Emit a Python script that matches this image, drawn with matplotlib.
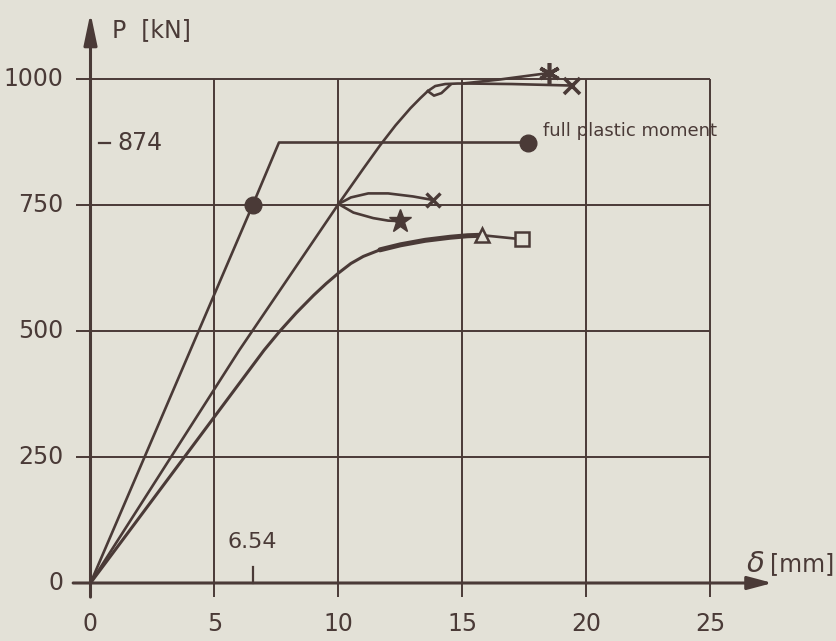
import matplotlib
matplotlib.use('Agg')
import matplotlib.pyplot as plt

# ---------------------------------------------------------------
# Data
# ---------------------------------------------------------------
X_TICKS = [0, 5, 10, 15, 20, 25]
Y_TICKS = [0, 250, 500, 750, 1000]

# bilinear idealisation (yield at 6.54 mm / 750 kN, plateau 874 kN)
bilin_d = [0.0, 6.54, 7.6, 17.64]
bilin_p = [0, 750, 874, 874]

# curve reaching ~1000 kN
upper_d = [0.0, 6.0, 10.0, 11.0, 11.67, 12.3, 12.9, 13.3, 13.6,
           13.9, 14.3, 14.8, 15.2, 17.0, 19.4]
upper_p = [0, 462, 752, 822, 868, 908, 942, 962, 976,
           986, 990, 991, 991, 990, 987]
loop_d = [13.6, 13.85, 14.15, 14.5]
loop_p = [976, 967, 972, 988]
upper_branch_d = [15.0, 16.5, 18.5]
upper_branch_p = [991, 999, 1012]

# two short branches leaving the curve at ~750 kN
cross_branch_d = [10.0, 10.5, 11.2, 12.0, 13.0, 13.8]
cross_branch_p = [752, 765, 773, 773, 767, 760]
star_branch_d = [10.0, 10.6, 11.4, 12.0, 12.5]
star_branch_p = [752, 735, 724, 719, 718]

# lower (rounded) curve
lower_d = [0.0, 7.0, 7.64, 8.3, 9.0, 9.5, 10.0, 10.5,
           11.0, 11.67, 12.5, 13.5, 14.5, 15.2, 15.8]
lower_p = [0, 462, 500, 536, 571, 594, 615, 634,
           648, 661, 671, 680, 686, 689, 690]
lower_end_d = [15.8, 17.4]
lower_end_p = [690, 682]

INK = '#4a3a37'
PAPER = '#e3e1d7'

fig = plt.figure(figsize=(8.36, 6.41), dpi=100, facecolor=PAPER)
ax = fig.add_axes([0, 0, 1, 1])
ax.set_facecolor(PAPER)
ax.set_xlim(-90.5 / 24.8, (836 - 90.5) / 24.8)
ax.set_ylim(-(641 - 583) / 0.504, 583 / 0.504)
ax.axis('off')

# grid
ax.hlines(Y_TICKS[1:], -0.6, 25, color=INK, lw=1.4)
ax.vlines(X_TICKS[1:], -28, 1000, color=INK, lw=1.4)

# axes with arrows
ax.annotate('', xy=(27.5, 0), xytext=(-0.7, 0),
            arrowprops=dict(arrowstyle='-|>,head_length=0.75,head_width=0.2',
                            mutation_scale=20, lw=2.2, color=INK,
                            shrinkA=0, shrinkB=0))
ax.annotate('', xy=(0, 1131), xytext=(0, -28),
            arrowprops=dict(arrowstyle='-|>,head_length=0.95,head_width=0.2',
                            mutation_scale=20, lw=2.2, color=INK,
                            shrinkA=0, shrinkB=0))

# tick labels
fs = 17
for x in X_TICKS:
    ax.text(x, -81, str(x), ha='center', va='center', fontsize=fs, color=INK)
for y in Y_TICKS:
    ax.text(-1.1, y, str(y), ha='right', va='center', fontsize=fs, color=INK)

# axis titles
ax.text(0.85, 1097, 'P  [kN]', ha='left', va='center', fontsize=fs, color=INK)
ax.text(26.45, 38, r'$\delta$', ha='left', va='center', fontsize=fs + 4, color=INK)
ax.text(27.4, 38, '[mm]', ha='left', va='center', fontsize=fs, color=INK)

# special marks 874 and 6.54
ax.plot([0.35, 0.8], [874, 874], color=INK, lw=1.6)
ax.text(1.1, 874, '874', ha='left', va='center', fontsize=fs, color=INK)
ax.plot([6.54, 6.54], [0, 32], color=INK, lw=1.6)
ax.text(6.54, 81, '6.54', ha='center', va='center', fontsize=fs - 1, color=INK)

lw = 1.9
# bilinear
ax.plot(bilin_d, bilin_p, color=INK, lw=lw)
ax.plot(bilin_d[1], bilin_p[1], 'o', ms=12, color=INK)
ax.plot(bilin_d[-1], bilin_p[-1], 'o', ms=12, color=INK)
ax.text(18.25, 897, 'full plastic moment', ha='left', va='center',
        fontsize=13, color=INK)

# upper curve
ax.plot(upper_d, upper_p, color=INK, lw=lw)
ax.plot(loop_d, loop_p, color=INK, lw=lw)
ax.plot(upper_branch_d, upper_branch_p, color=INK, lw=lw)
ax.plot(upper_d[-1], upper_p[-1], 'x', ms=12, mew=2.6, color=INK)
ax.plot(upper_branch_d[-1], upper_branch_p[-1], marker=(6, 2, 0), ms=15,
        mew=2.6, color=INK)

# branches at 750
ax.plot(cross_branch_d, cross_branch_p, color=INK, lw=lw)
ax.plot(cross_branch_d[-1], cross_branch_p[-1], 'x', ms=10, mew=2.4, color=INK)
ax.plot(star_branch_d, star_branch_p, color=INK, lw=lw)
ax.plot(star_branch_d[-1], star_branch_p[-1], '*', ms=17, color=INK)

# lower curve (heavier towards the end)
ax.plot(lower_d, lower_p, color=INK, lw=2.2)
ax.plot(lower_d[-6:], lower_p[-6:], color=INK, lw=3.6, solid_capstyle='round')
ax.plot(lower_end_d, lower_end_p, color=INK, lw=lw)
ax.plot(lower_end_d[0], lower_end_p[0], '^', ms=10, mfc=PAPER, mec=INK, mew=1.8)
ax.plot(lower_end_d[-1], lower_end_p[-1], 's', ms=10, mfc=PAPER, mec=INK, mew=1.8)

fig.savefig('out.png', dpi=100, facecolor=PAPER)
